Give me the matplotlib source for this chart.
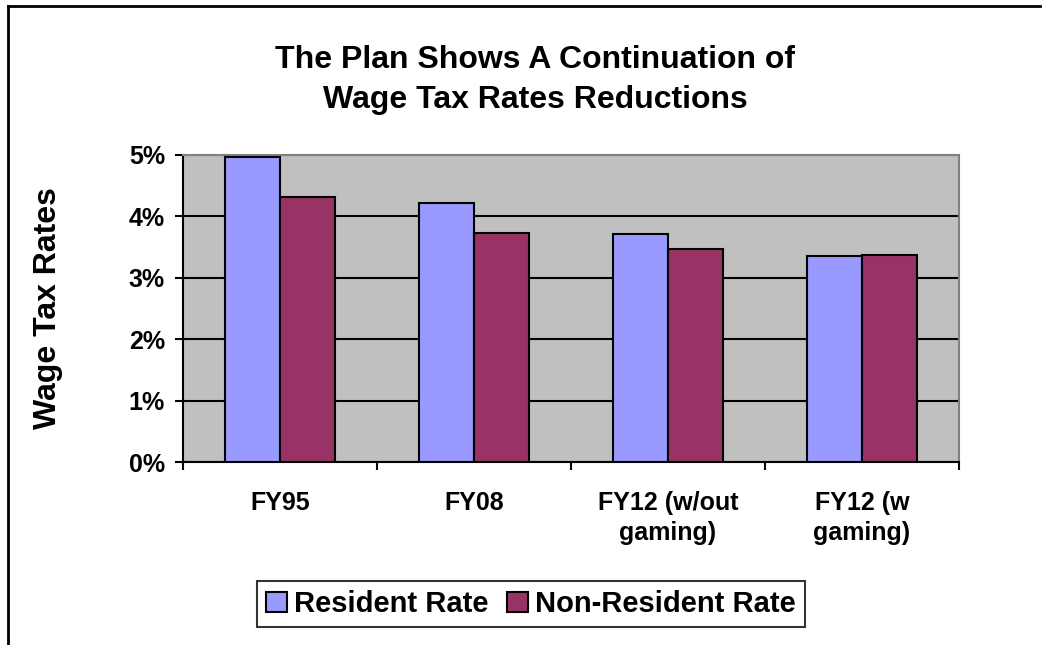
import matplotlib
matplotlib.use("Agg")
import matplotlib.pyplot as plt
from matplotlib.lines import Line2D
import numpy as np

plt.rcParams['font.family'] = ['Liberation Sans', 'DejaVu Sans']
plt.rcParams['font.weight'] = 'bold'

categories = ["FY95", "FY08", "FY12 (w/out\ngaming)", "FY12 (w\ngaming)"]
resident_rate = [4.96, 4.22, 3.72, 3.36]
non_resident_rate = [4.32, 3.73, 3.47, 3.37]
y_ticks = [0, 1, 2, 3, 4, 5]
y_tick_labels = ["0%", "1%", "2%", "3%", "4%", "5%"]

W, H = 1050, 645
fig = plt.figure(figsize=(W / 100, H / 100), dpi=100)
ax = fig.add_axes([183 / W, 1 - 462 / H, (959 - 183) / W, (462 - 155) / H])
ax.set_facecolor("#C0C0C0")

x = np.arange(len(categories))
w = 0.2857
ax.bar(x - w / 2, resident_rate, w, color="#9999FF", edgecolor="black",
       linewidth=1.5, label="Resident Rate", zorder=3)
ax.bar(x + w / 2, non_resident_rate, w, color="#993366", edgecolor="black",
       linewidth=1.5, label="Non-Resident Rate", zorder=3)

ax.set_xlim(-0.5, len(categories) - 0.5)
ax.set_ylim(0, 5)
ax.set_yticks(y_ticks)
ax.set_yticklabels(y_tick_labels, fontsize=18, fontweight='bold')
ax.yaxis.grid(True, color="black", linewidth=1.5, zorder=1)
ax.set_axisbelow(True)

# category boundaries carry the tick marks, centres carry the labels
ax.set_xticks(np.arange(-0.5, len(categories)))
ax.set_xticklabels([])
ax.set_xticks(x, minor=True)
ax.set_xticklabels(categories, minor=True, fontsize=18, fontweight='bold',
                   linespacing=1.3, va='top')
ax.tick_params(axis='x', which='minor', length=0, pad=21)
ax.tick_params(axis='x', which='major', direction='out', length=6, width=1.5)
ax.tick_params(axis='y', direction='out', length=6, width=1.5, pad=7)

for side in ("left", "bottom"):
    ax.spines[side].set_color("black")
    ax.spines[side].set_linewidth(1.5)
for side in ("top", "right"):
    ax.spines[side].set_color("#808080")
    ax.spines[side].set_linewidth(1.5)

fig.text(48 / W, 1 - 308 / H, "Wage Tax Rates", rotation=90, ha='center',
         va='center', fontsize=23, fontweight='bold')

fig.text(535 / W, 1 - 80 / H, "The Plan Shows A Continuation of\nWage Tax Rates Reductions",
         ha='center', va='center', fontsize=23, fontweight='bold',
         linespacing=1.45)

leg = fig.legend(loc='center', bbox_to_anchor=(531 / W, 1 - 604 / H),
                 ncol=2, frameon=True, fancybox=False,
                 handlelength=0.7, handleheight=0.7, handletextpad=0.25,
                 columnspacing=0.65, borderpad=0.32,
                 prop={'weight': 'bold', 'size': 21})
leg.get_frame().set_edgecolor("black")
leg.get_frame().set_linewidth(1.5)
for h in leg.legend_handles:
    h.set_linewidth(1.5)

# outer chart frame (left and top edges)
fig.add_artist(Line2D([8 / W, 8 / W], [0, 1 - 6 / H], color="black",
                      linewidth=2, transform=fig.transFigure))
fig.add_artist(Line2D([8 / W, 1040 / W], [1 - 6 / H, 1 - 6 / H],
                      color="black", linewidth=2, transform=fig.transFigure))

fig.savefig("out.png", dpi=100)
